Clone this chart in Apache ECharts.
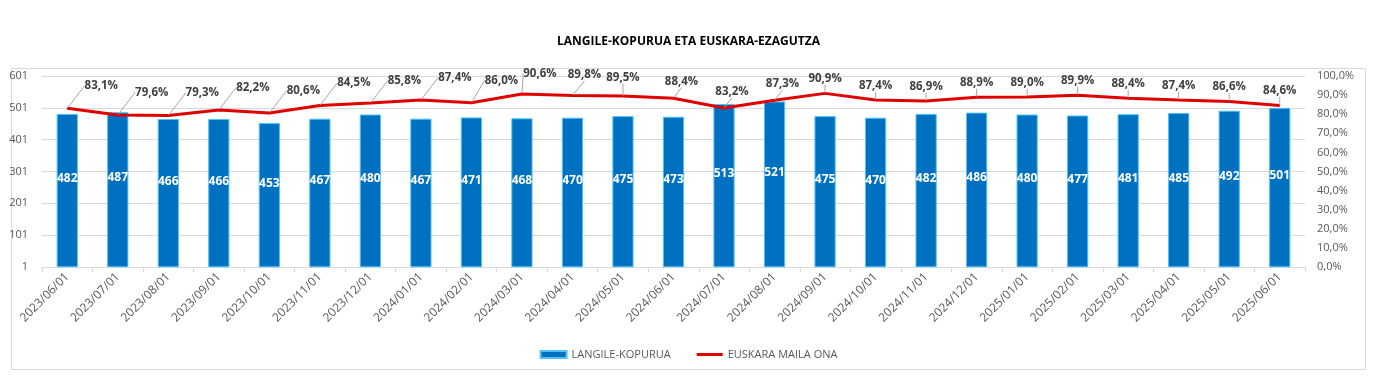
<!DOCTYPE html>
<html>
<head>
<meta charset="utf-8">
<script src="https://cdn.jsdelivr.net/npm/echarts@6/dist/echarts.min.js"></script>
<style>
html,body{margin:0;padding:0;background:#fff;}
#chart{width:1377px;height:379px;}
</style>
</head>
<body>
<div id="chart"></div>
<script>
var categories = ["2023/06/01","2023/07/01","2023/08/01","2023/09/01","2023/10/01","2023/11/01","2023/12/01","2024/01/01","2024/02/01","2024/03/01","2024/04/01","2024/05/01","2024/06/01","2024/07/01","2024/08/01","2024/09/01","2024/10/01","2024/11/01","2024/12/01","2025/01/01","2025/02/01","2025/03/01","2025/04/01","2025/05/01","2025/06/01"];
var langileKopurua = [482,487,466,466,453,467,480,467,471,468,470,475,473,513,521,475,470,482,486,480,477,481,485,492,501];
var euskaraMailaOna = [83.1,79.6,79.3,82.2,80.6,84.5,85.8,87.4,86.0,90.6,89.8,89.5,88.4,83.2,87.3,90.9,87.4,86.9,88.9,89.0,89.9,88.4,87.4,86.6,84.6];
var titleText = "LANGILE-KOPURUA ETA EUSKARA-EZAGUTZA";
var seriesNames = ["LANGILE-KOPURUA","EUSKARA MAILA ONA"];

var fontFam = "'Open Sans', 'Noto Sans', sans-serif";
var chart = echarts.init(document.getElementById('chart'), null, {renderer:'canvas'});
function pct(v){ return v.toFixed(1).replace('.', ',') + '%'; }
chart.setOption({
  animation:false,
  textStyle:{fontFamily:fontFam},
  title:{text:titleText,left:'center',top:31,textStyle:{fontSize:12,fontWeight:'bold',color:'#000',fontFamily:fontFam}},
  graphic:[{type:'rect',shape:{x:11.5,y:68.5,width:1354,height:301},style:{fill:null,stroke:'#d9d9d9',lineWidth:1},silent:true,z:-1}],
  legend:{bottom:14,left:'center',itemGap:26,itemWidth:26,itemHeight:7,
    textStyle:{fontSize:11,color:'#595959',fontFamily:fontFam},
    data:[{name:seriesNames[0],icon:'rect'},{name:seriesNames[1],icon:'path://M0,0 L26,0 L26,3 L0,3 Z',itemStyle:{color:'#e00000'}}]},
  grid:{left:42,right:72,top:76,bottom:112},
  xAxis:{type:'category',data:categories,boundaryGap:true,
    axisLine:{lineStyle:{color:'#d9d9d9'}},
    axisTick:{show:true,length:5,lineStyle:{color:'#d9d9d9'}},
    axisLabel:{rotate:45,fontSize:12,color:'#595959',margin:8,fontFamily:fontFam}},
  yAxis:[
    {type:'value',min:1,max:601,interval:100,
      axisLine:{show:false},axisTick:{show:false},
      axisLabel:{fontSize:11,color:'#595959',margin:14,fontFamily:fontFam},
      splitLine:{lineStyle:{color:'#d9d9d9'}}},
    {type:'value',min:0,max:100,interval:10,position:'right',
      axisLine:{show:false},axisTick:{show:false},splitLine:{show:false},
      axisLabel:{fontSize:11,color:'#595959',margin:12,fontFamily:fontFam,formatter:function(v){return pct(v);}}}
  ],
  series:[
    {name:seriesNames[0],type:'bar',data:langileKopurua,barWidth:'42%',yAxisIndex:0,
      itemStyle:{color:'#0070c0',borderColor:'#4fc3f7',borderWidth:1},
      label:{show:true,position:'inside',offset:[0,-12],color:'#fff',fontWeight:'bold',fontSize:12,fontFamily:fontFam}},
    {name:seriesNames[1],type:'line',data:euskaraMailaOna,yAxisIndex:1,
      symbol:'circle',symbolSize:1,showSymbol:true,
      lineStyle:{color:'#e00000',width:3},itemStyle:{color:'#e00000'},z:5,
      label:{show:true,position:'top',distance:8,color:'#404040',fontSize:11.5,fontWeight:'bold',fontFamily:fontFam,
        formatter:function(p){return pct(p.value);}},
      labelLine:{show:true,lineStyle:{color:'#a6a6a6',width:1}},
      labelLayout:function(p){
        var i = p.dataIndex;
        if(i<8){ return {dx:34,dy:-8}; }
        if(i===8){ return {dx:30,dy:-8}; }
        if(i===9){ return {dx:18,dy:-6}; }
        if(i===10){ return {dx:12,dy:-6}; }
        if(i===11){ return {dx:0,dy:-4}; }
        if(i<15){ return {dx:8,dy:-2}; }
        return {};
      }}
  ]
});
</script>
</body>
</html>
